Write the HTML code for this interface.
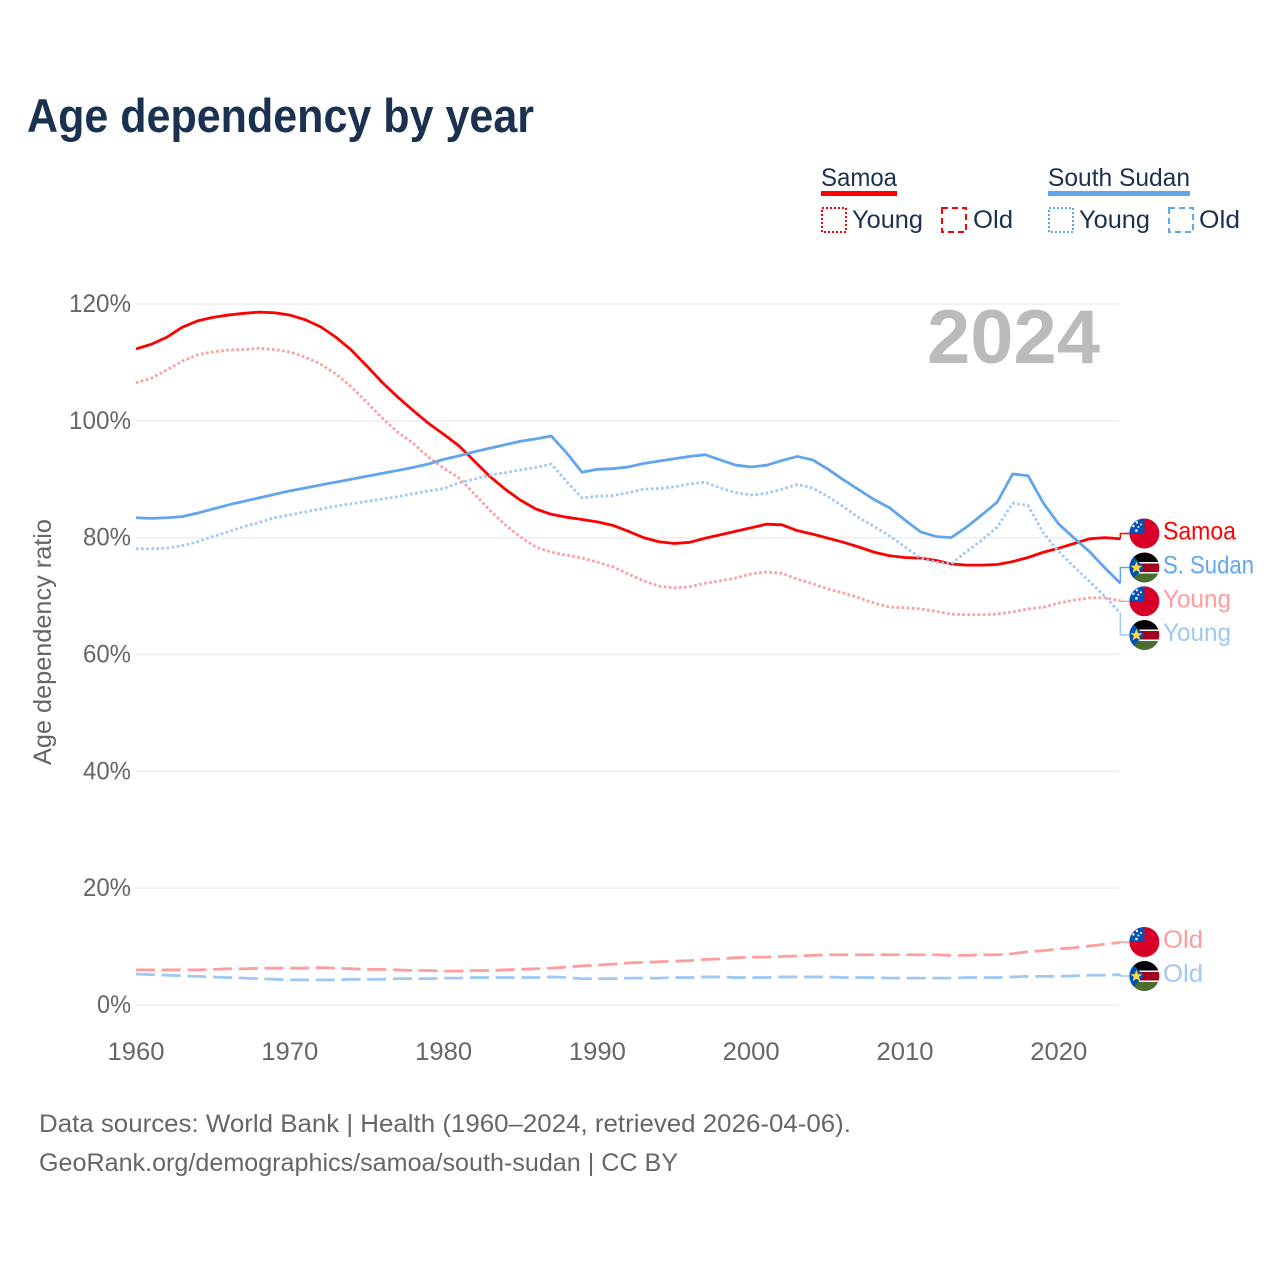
<!DOCTYPE html>
<html lang="en">
<head>
<meta charset="utf-8">
<title>Age dependency by year</title>
<style>
html,body{margin:0;padding:0;background:#fff;}
svg{display:block;}
text{font-family:"Liberation Sans",sans-serif;}
</style>
</head>
<body>
<svg id="chart" xmlns="http://www.w3.org/2000/svg" width="1280" height="1280" viewBox="0 0 1280 1280">
<defs>
<clipPath id="flag-clip"><circle cx="0" cy="0" r="15"/></clipPath>
<g id="flag-samoa" clip-path="url(#flag-clip)">
<rect x="-15" y="-15" width="30" height="30" fill="#d80027"/>
<rect x="-15" y="-15" width="15" height="15" fill="#0052b4"/>
<g fill="#fff"><circle cx="-7.5" cy="-11" r="1.2"/><circle cx="-3.5" cy="-9" r="1"/><circle cx="-11" cy="-7.5" r="1.2"/><circle cx="-6" cy="-6.5" r="1"/><circle cx="-8" cy="-3" r="1.3"/></g>
</g>
<g id="flag-south-sudan" clip-path="url(#flag-clip)">
<rect x="-15" y="-15" width="30" height="30" fill="#fff"/>
<rect x="-15" y="-15" width="30" height="9.5" fill="#000"/>
<rect x="-15" y="-4" width="30" height="8.5" fill="#a2001d"/>
<rect x="-15" y="6" width="30" height="9" fill="#496e2d"/>
<polygon points="-15,-15 0,0 -15,15" fill="#0052b4"/>
<polygon points="-8,-6 -6.3,-1.8 -2,-1.8 -5.4,0.9 -4.2,5.2 -8,2.7 -11.8,5.2 -10.6,0.9 -14,-1.8 -9.7,-1.8" fill="#ffda44"/>
</g>
</defs>

<text x="27" y="132" font-size="47" font-weight="700" fill="#1a3150" textLength="507" lengthAdjust="spacingAndGlyphs">Age dependency by year</text>

<g>
<text x="821" y="186" font-size="25" fill="#1a3150" textLength="76" lengthAdjust="spacingAndGlyphs">Samoa</text>
<rect x="821" y="191" width="76" height="5" fill="#ff0000"/>
<rect x="822" y="208" width="24" height="24" fill="none" stroke="#ff0000" stroke-width="2" stroke-dasharray="2 2"/>
<text x="852" y="228" font-size="25" fill="#1a3150" textLength="71" lengthAdjust="spacingAndGlyphs">Young</text>
<rect x="942" y="208" width="24" height="24" fill="none" stroke="#ff0000" stroke-width="2" stroke-dasharray="6 4"/>
<text x="973" y="228" font-size="25" fill="#1a3150" textLength="40" lengthAdjust="spacingAndGlyphs">Old</text>
<text x="1048" y="186" font-size="25" fill="#1a3150" textLength="142" lengthAdjust="spacingAndGlyphs">South Sudan</text>
<rect x="1048" y="191" width="142" height="5" fill="#60a5ee"/>
<rect x="1049" y="208" width="24" height="24" fill="none" stroke="#60a5ee" stroke-width="2" stroke-dasharray="2 2"/>
<text x="1079" y="228" font-size="25" fill="#1a3150" textLength="71" lengthAdjust="spacingAndGlyphs">Young</text>
<rect x="1169" y="208" width="24" height="24" fill="none" stroke="#60a5ee" stroke-width="2" stroke-dasharray="6 4"/>
<text x="1199" y="228" font-size="25" fill="#1a3150" textLength="41" lengthAdjust="spacingAndGlyphs">Old</text>
</g>

<g id="grid"></g>
<g id="yticks"></g>
<g id="xticks"></g>

<text transform="translate(51,765) rotate(-90)" x="0" y="0" font-size="25" fill="#666" textLength="246" lengthAdjust="spacingAndGlyphs">Age dependency ratio</text>
<text x="927" y="363" font-size="76" font-weight="700" fill="#bbbbbb" textLength="173" lengthAdjust="spacingAndGlyphs">2024</text>

<g id="series"></g>
<g id="end-labels"></g>

<text x="39" y="1132" font-size="25" fill="#666" textLength="812" lengthAdjust="spacingAndGlyphs">Data sources: World Bank | Health (1960–2024, retrieved 2026-04-06).</text>
<text x="39" y="1171" font-size="25" fill="#666" textLength="639" lengthAdjust="spacingAndGlyphs">GeoRank.org/demographics/samoa/south-sudan | CC BY</text>
</svg>

<script>
var startYear = 1960;
var yTickValues = [0, 20, 40, 60, 80, 100, 120];
var xTickYears = [1960, 1970, 1980, 1990, 2000, 2010, 2020];

var samoaTotal = [
112.3,113.1,114.3,116.0,117.1,117.7,118.1,118.4,118.6,118.5,
118.1,117.3,116.1,114.3,112.1,109.4,106.6,104.1,101.8,99.6,
97.7,95.7,93.1,90.5,88.3,86.4,84.9,84.0,83.5,83.1,
82.7,82.1,81.1,80.0,79.3,79.0,79.2,79.9,80.5,81.1,
81.7,82.3,82.2,81.2,80.6,79.9,79.2,78.4,77.5,76.9,
76.6,76.5,76.1,75.5,75.3,75.3,75.4,75.9,76.6,77.5,
78.2,79.0,79.8,80.0,79.8];
var samoaYoung = [
106.5,107.3,108.7,110.2,111.3,111.8,112.1,112.2,112.4,112.2,
111.8,110.9,109.7,108.0,105.8,103.2,100.5,98.1,96.2,93.8,
91.9,90.2,87.5,84.7,82.2,80.1,78.4,77.5,77.0,76.5,
75.8,75.0,73.8,72.6,71.7,71.4,71.6,72.2,72.6,73.1,
73.8,74.1,73.9,72.9,72.1,71.2,70.5,69.7,68.8,68.1,
68.0,67.8,67.4,66.9,66.8,66.8,66.9,67.3,67.8,68.1,
68.8,69.3,69.7,69.7,69.2];
var samoaOld = [
6.0,6.0,6.0,6.0,6.0,6.1,6.2,6.2,6.3,6.3,
6.3,6.3,6.4,6.3,6.2,6.1,6.1,6.0,5.9,5.9,
5.8,5.8,5.9,5.9,6.0,6.1,6.2,6.3,6.5,6.7,
6.8,7.0,7.2,7.3,7.4,7.5,7.6,7.8,7.9,8.1,
8.2,8.2,8.3,8.4,8.5,8.6,8.6,8.6,8.6,8.6,
8.6,8.6,8.6,8.5,8.5,8.6,8.6,8.8,9.1,9.3,
9.6,9.8,10.1,10.4,10.7];
var sudanTotal = [
83.4,83.3,83.4,83.6,84.2,84.9,85.6,86.2,86.8,87.4,
88.0,88.5,89.0,89.5,90.0,90.5,91.0,91.5,92.0,92.6,
93.4,94.0,94.7,95.3,95.9,96.5,96.9,97.4,94.5,91.2,
91.7,91.8,92.1,92.7,93.1,93.5,93.9,94.2,93.3,92.4,
92.1,92.4,93.2,93.9,93.3,91.7,89.9,88.2,86.5,85.1,
83.0,81.0,80.2,80.0,81.8,83.9,86.1,90.9,90.6,85.9,
82.3,79.9,77.6,74.8,72.2];
var sudanYoung = [
78.1,78.1,78.2,78.6,79.3,80.2,81.0,81.9,82.6,83.4,
83.9,84.4,84.9,85.4,85.8,86.2,86.6,87.0,87.5,88.0,
88.4,89.4,90.0,90.7,91.1,91.6,92.0,92.6,89.6,86.8,
87.1,87.2,87.7,88.3,88.4,88.7,89.2,89.5,88.5,87.7,
87.3,87.6,88.3,89.1,88.5,87.0,85.3,83.4,81.9,80.3,
78.4,76.5,75.8,75.5,77.6,79.6,81.8,85.9,85.5,80.8,
77.6,75.0,72.5,69.9,67.1];
var sudanOld = [
5.3,5.2,5.1,5.0,4.9,4.8,4.7,4.6,4.5,4.4,
4.3,4.3,4.3,4.3,4.4,4.4,4.4,4.5,4.5,4.5,
4.6,4.6,4.7,4.7,4.7,4.7,4.7,4.8,4.7,4.5,
4.5,4.5,4.6,4.6,4.6,4.7,4.7,4.8,4.8,4.7,
4.7,4.7,4.8,4.8,4.8,4.8,4.7,4.7,4.7,4.6,
4.6,4.6,4.6,4.6,4.7,4.7,4.7,4.8,4.9,4.9,
4.9,5.0,5.1,5.1,5.2];

var NS = 'http://www.w3.org/2000/svg';
function xScale(year) { return 136 + (year - 1960) * 15.38; }
function yScale(value) { return 1005 - value * 5.842; }
function make(tag, parent, attrs, text) {
  var el = document.createElementNS(NS, tag);
  for (var k in attrs) el.setAttribute(k, attrs[k]);
  if (text !== undefined) el.textContent = text;
  parent.appendChild(el);
  return el;
}

var gridG = document.getElementById('grid');
var yG = document.getElementById('yticks');
var xG = document.getElementById('xticks');

yTickValues.forEach(function (v) {
  var line = make('line', gridG, {x1: 136, x2: 1119, y1: yScale(v), y2: yScale(v), stroke: '#eeeeee', 'stroke-width': 1.6});
  
  
  var label = v + '%';
  var w = (label.length - 1) * 14 + 20;
  var t = make('text', yG, {x: 131 - w, y: yScale(v) + 8, 'font-size': 25, fill: '#666', textLength: w, lengthAdjust: 'spacingAndGlyphs'}, label);
  
  
});

xTickYears.forEach(function (yr) {
  var t = make('text', xG, {x: xScale(yr) - 28.5, y: 1060, 'font-size': 25, fill: '#666', textLength: 57, lengthAdjust: 'spacingAndGlyphs'}, String(yr));
  
  
});

var red = '#ff0000', blue = '#60a5ee', lightRed = '#ff9c9c', lightBlue = '#9fc8f3';
var seriesDefs = [
  {name: 'samoa-young', values: samoaYoung, color: lightRed, dash: '2.6 2.5', labelText: 'Young', labelY: 601.3, flag: 'samoa', labelW: 68},
  {name: 'samoa-old', values: samoaOld, color: lightRed, dash: '19 6.7', labelText: 'Old', labelY: 942, flag: 'samoa', labelW: 40},
  {name: 'samoa-total', values: samoaTotal, color: red, dash: null, labelText: 'Samoa', labelY: 533.5, flag: 'samoa', labelW: 73},
  {name: 'south-sudan-young', values: sudanYoung, color: lightBlue, dash: '2.6 2.5', labelText: 'Young', labelY: 635, flag: 'south-sudan', labelW: 68},
  {name: 'south-sudan-old', values: sudanOld, color: lightBlue, dash: '19 6.7', labelText: 'Old', labelY: 976, flag: 'south-sudan', labelW: 40},
  {name: 'south-sudan-total', values: sudanTotal, color: blue, dash: null, labelText: 'S. Sudan', labelY: 567.5, flag: 'south-sudan', labelW: 91}
];

var seriesG = document.getElementById('series');
var endG = document.getElementById('end-labels');

seriesDefs.forEach(function (s) {
  var pts = s.values.map(function (v, i) {
    return xScale(startYear + i).toFixed(2) + ',' + yScale(v).toFixed(2);
  }).join(' ');
  var attrs = {points: pts, fill: 'none', stroke: s.color, 'stroke-width': 2.8, 'stroke-linejoin': 'round'};
  if (s.dash) attrs['stroke-dasharray'] = s.dash;
  var line = make('polyline', seriesG, attrs);
  
  

  var lastX = xScale(startYear + s.values.length - 1);
  var lastY = yScale(s.values[s.values.length - 1]);
  var conn = make('path', endG, {d: 'M' + lastX + ' ' + lastY + ' V' + s.labelY + ' H1130', fill: 'none', stroke: s.color, 'stroke-width': 1.4});
  
  

  var flag = make('use', endG, {href: '#flag-' + s.flag, transform: 'translate(1144.4,' + s.labelY + ')'});
  
  

  var label = make('text', endG, {x: 1163, y: s.labelY + 6, 'font-size': 25, fill: s.color, textLength: s.labelW, lengthAdjust: 'spacingAndGlyphs'}, s.labelText);
  
  
});
</script>
</body>
</html>
